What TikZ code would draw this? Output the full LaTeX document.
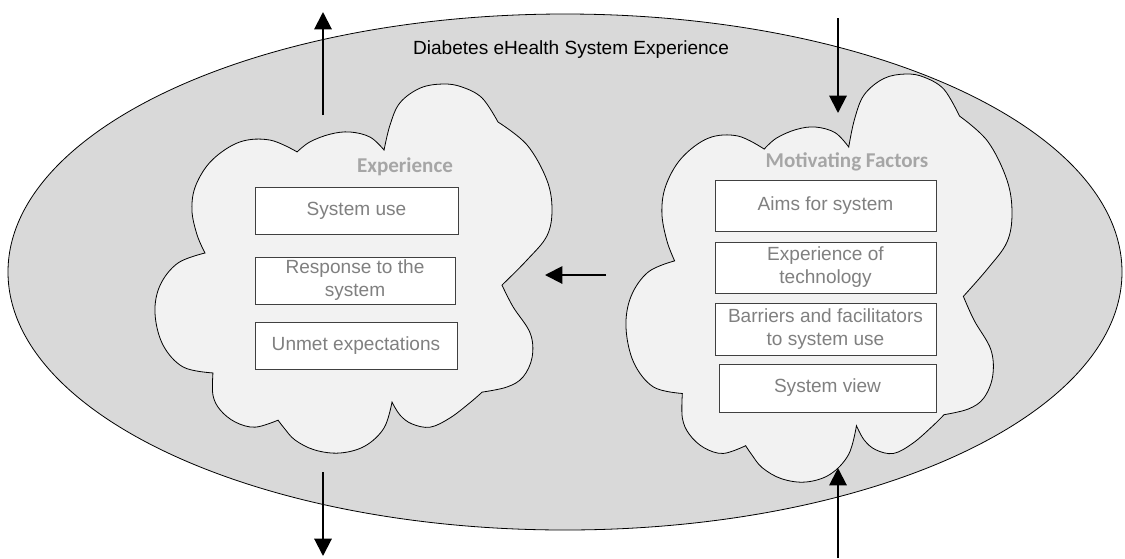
\documentclass[tikz,border=0pt]{standalone}
\usepackage{fontspec}
\setmainfont{Liberation Sans}
\newfontfamily\headfont{Carlito}
\usetikzlibrary{shapes.geometric,arrows.meta}
\definecolor{ellfill}{HTML}{D9D9D9}
\definecolor{cloudfill}{HTML}{F2F2F2}
\definecolor{boxtext}{HTML}{808080}
\definecolor{headtext}{HTML}{A6A6A6}
\definecolor{boxline}{HTML}{404040}
\newcommand\cloudshape[4]{%
  \pgfmathsetmacro\cw{#3*0.75}\pgfmathsetmacro\ch{#4*0.75}%
  \begin{scope}[shift={(#1,#2)},x=\cw pt,y=-\ch pt]
    \draw[cloudst] (0.126,0.458)
      -- plot[bump] coordinates {(0.126,0.458) (0.106,0.409) (0.093,0.341) (0.103,0.274) (0.144,0.206) (0.214,0.157) (0.290,0.152) (0.358,0.184)}
      -- plot[bump] coordinates {(0.358,0.184) (0.390,0.157) (0.441,0.136) (0.491,0.130) (0.542,0.144) (0.577,0.179)}
      -- plot[bump] coordinates {(0.577,0.179) (0.592,0.111) (0.617,0.051) (0.668,0.011) (0.725,0.0) (0.773,0.008) (0.824,0.038) (0.864,0.103)}
      -- plot[bump] coordinates {(0.864,0.103) (0.937,0.165) (0.987,0.260) (1.0,0.341) (0.987,0.412) (0.937,0.477) (0.874,0.545)}
      -- plot[bump] coordinates {(0.874,0.545) (0.902,0.604) (0.945,0.675) (0.950,0.740) (0.927,0.794) (0.887,0.821) (0.824,0.835)}
      -- plot[bump] coordinates {(0.824,0.835) (0.793,0.864) (0.743,0.905) (0.693,0.930) (0.647,0.921) (0.617,0.897) (0.597,0.862)}
      -- plot[bump] coordinates {(0.597,0.862) (0.577,0.932) (0.529,0.981) (0.466,1.0) (0.403,0.992) (0.353,0.965) (0.325,0.932) (0.310,0.911)}
      -- plot[bump] coordinates {(0.310,0.911) (0.252,0.930) (0.202,0.916) (0.164,0.883) (0.146,0.843) (0.146,0.783)}
      -- plot[bump] coordinates {(0.146,0.783) (0.071,0.767) (0.020,0.707) (0.0,0.621) (0.013,0.545) (0.058,0.485) (0.126,0.458)}
      -- cycle;
  \end{scope}}
\tikzset{
  bump/.style={smooth,tension=0.6},
  cloudst/.style={draw=black,fill=cloudfill,line width=0.6pt,line join=miter},
  itembox/.style n args={2}{draw=boxline,fill=white,line width=0.7pt,text=boxtext,
    font=\fontsize{14.3}{17.3}\selectfont,align=center,inner sep=0pt,
    minimum width=#1*0.75pt,minimum height=#2*0.75pt},
  heading/.style={text=headtext,font=\headfont\bfseries\fontsize{15.8}{18}\selectfont,inner sep=0pt},
  flow/.style={line width=1.5pt,-{Triangle[width=13pt,length=13pt]}}
}
\begin{document}
\begin{tikzpicture}[x=0.75pt,y=-0.75pt]
\useasboundingbox (0,0) rectangle (1125,558);
\node[draw=black,ellipse,fill=ellfill,minimum width=835.5pt,minimum height=387pt,inner sep=0pt,line width=0.6pt] (sys) at (565,272) {};
\node[font=\fontsize{14.3}{17}\selectfont,inner sep=0pt] (title) at (571,50) {Diabetes eHealth System Experience};
\cloudshape{155}{84}{397}{369}
\cloudshape{626}{74}{386}{408}
\node[heading] (hexp) at (405,167) {Experience};
\node[heading] (hmot) at (847,162) {Motivating Factors};
\node[itembox={203}{47}] (b1) at (356.5,210.5) {System use};
\node[itembox={200}{47}] (b2) at (355,280.5) {Response to the\\system};
\node[itembox={202}{47}] (b3) at (356,345.5) {Unmet expectations};
\node[itembox={221}{51}] (r1) at (825.5,205.5) {Aims for system};
\node[itembox={221}{51}] (r2) at (825.5,267.5) {Experience of\\technology};
\node[itembox={221}{52}] (r3) at (825.5,329) {Barriers and facilitators\\to system use};
\node[itembox={217}{48}] (r4) at (827.5,388) {System view};
\coordinate (luS) at (323,115); \coordinate (luE) at (323,12);
\coordinate (ldS) at (323,472); \coordinate (ldE) at (323,556);
\coordinate (rdS) at (838,18);  \coordinate (rdE) at (838,113);
\coordinate (ruS) at (838,558); \coordinate (ruE) at (838,468);
\coordinate (mS) at (606,275);  \coordinate (mE) at (545,275);
\draw[flow] (luS) -- (luE);
\draw[flow] (ldS) -- (ldE);
\draw[flow] (rdS) -- (rdE);
\draw[flow] (ruS) -- (ruE);
\draw[flow] (mS) -- (mE);
\end{tikzpicture}
\end{document}
